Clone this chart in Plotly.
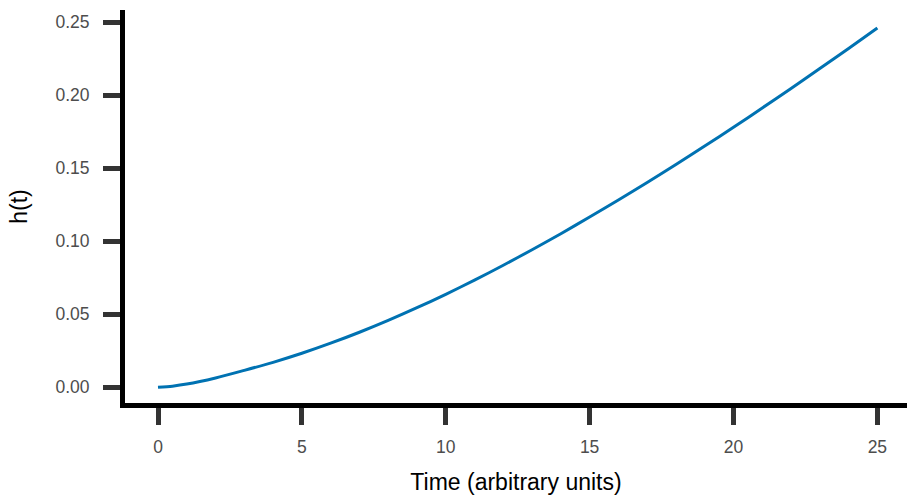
import plotly.graph_objects as go

# Time values (arbitrary units) and hazard h(t)
time = [0, 0.5, 1, 2, 3, 4, 5, 6, 7, 8, 9, 10, 11, 12, 13, 14, 15, 16, 17, 18, 19, 20, 21, 22, 23, 24, 25]
hazard = [0.0000, 0.0008, 0.0022, 0.0064, 0.0116, 0.0171, 0.0233, 0.0302, 0.0377, 0.0458, 0.0545,
          0.0637, 0.0734, 0.0836, 0.0942, 0.1052, 0.1166, 0.1283, 0.1403, 0.1526, 0.1652,
          0.1781, 0.1913, 0.2047, 0.2183, 0.2321, 0.2461]

x_ticks = [0, 5, 10, 15, 20, 25]
y_ticks = [0.00, 0.05, 0.10, 0.15, 0.20, 0.25]
y_tick_labels = ["0.00", "0.05", "0.10", "0.15", "0.20", "0.25"]

fig = go.Figure()
fig.add_trace(go.Scatter(
    x=time, y=hazard, mode="lines",
    line=dict(color="#0072B2", width=3, shape="spline", smoothing=0.8),
    showlegend=False, hoverinfo="skip",
))

font_family = "Liberation Sans, Arial, sans-serif"
fig.update_layout(
    width=907, height=496,
    margin=dict(l=125, r=0, t=10, b=93),
    paper_bgcolor="white", plot_bgcolor="white",
    font=dict(family=font_family),
)
fig.update_xaxes(
    range=[-1.147, 26.03], tickvals=x_ticks,
    showgrid=False, zeroline=False,
    showline=True, linecolor="black", linewidth=5,
    ticks="outside", ticklen=17, tickwidth=5, tickcolor="#333333",
    tickfont=dict(size=17.5, color="#4D4D4D", family=font_family),
    ticklabelstandoff=7,
    title=dict(text="Time (arbitrary units)", font=dict(size=23, color="black", family=font_family), standoff=19),
)
fig.update_yaxes(
    range=[-0.01075, 0.2584], tickvals=y_ticks, ticktext=y_tick_labels,
    showgrid=False, zeroline=False,
    showline=True, linecolor="black", linewidth=5,
    ticks="outside", ticklen=17, tickwidth=5, tickcolor="#333333",
    tickfont=dict(size=17.5, color="#4D4D4D", family=font_family),
    ticklabelstandoff=10,
    title=dict(text="h(t)", font=dict(size=23, color="black", family=font_family), standoff=23),
)

fig.write_html("out.html")
